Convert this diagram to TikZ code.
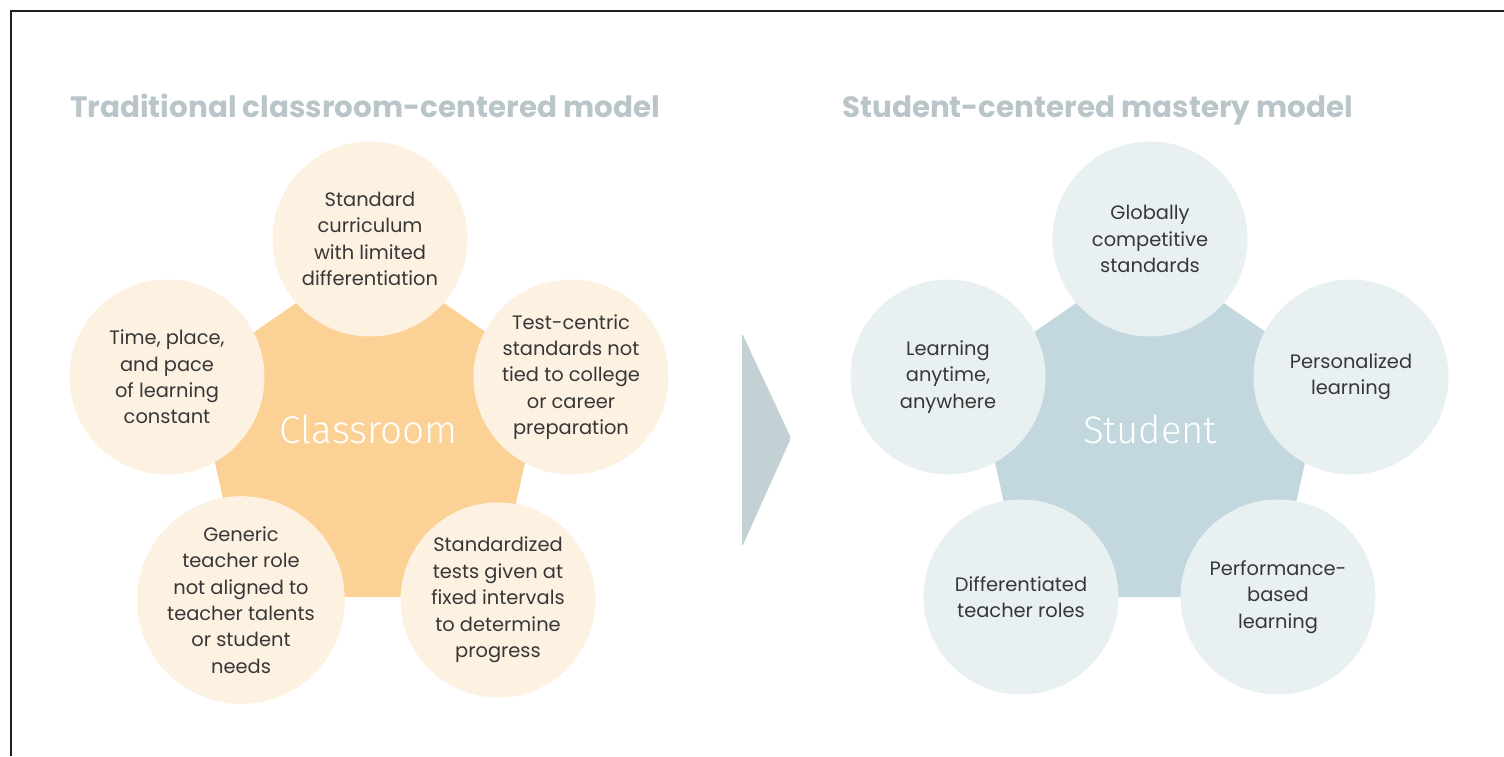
\documentclass[tikz,border=0pt]{standalone}
\usepackage{fontspec}
\usepackage{graphicx}
\setmainfont{Poppins}
\newfontfamily\lightfont{Fira Sans Light}
\definecolor{orangeD}{RGB}{251,209,150}
\definecolor{orangeL}{RGB}{253,241,226}
\definecolor{blueD}{RGB}{194,215,222}
\definecolor{blueL}{RGB}{233,240,242}
\definecolor{titleC}{RGB}{186,197,201}
\definecolor{bodyC}{RGB}{55,55,55}
\definecolor{arrowC}{RGB}{196,209,212}
\definecolor{frameC}{RGB}{30,30,30}
\tikzset{
  bubble/.style={circle, minimum size=195bp, inner sep=0pt, align=center,
    text=bodyC, font=\fontsize{19.5}{26.5}\selectfont},
  obubble/.style={bubble, fill=orangeL},
  bbubble/.style={bubble, fill=blueL},
  heading/.style={anchor=base west, inner sep=0pt, text=titleC},
  hub/.style={anchor=base, inner sep=0pt, text=white},
}
\begin{document}
\begin{tikzpicture}[x=1bp,y=-1bp]
\useasboundingbox (0,0) rectangle (1504,756);
% frame
\draw[line width=2bp, frameC] (11,756) -- (11,11) -- (1504,11);
% titles
\node[heading] (t1) at (70,117) {\resizebox{590bp}{!}{\bfseries Traditional classroom-centered model}};
\node[heading] (t2) at (842,117) {\resizebox{511bp}{!}{\bfseries Student-centered mastery model}};
% left pentagon
\fill[orangeD] (370,252) -- (195,373) -- (245,597) -- (495,597) -- (545,373) -- cycle;
\node[obubble] (l1) at (370,239) {Standard\\curriculum\\with limited\\differentiation};
\node[obubble] (l2) at (167,377) {Time, place,\\and pace\\of learning\\constant};
\node[obubble] (l3) at (571,377) {Test-centric\\standards not\\tied to college\\or career\\preparation};
\node[obubble] (l4) at (241,600) {Generic\\teacher role\\not aligned to\\teacher talents\\or student\\needs};
\node[obubble] (l5) at (498,600) {Standardized\\tests given at\\fixed intervals\\to determine\\progress};
\node[hub] (lc) at (369,443) {\resizebox{178bp}{!}{\lightfont Classroom}};
% arrow
\fill[arrowC, rounded corners=3bp] (742,333) -- (791,438) -- (742,547) -- cycle;
% right pentagon
\fill[blueD] (1150,252) -- (975,373) -- (1025,597) -- (1275,597) -- (1325,373) -- cycle;
\node[bbubble] (r1) at (1150,239) {Globally\\competitive\\standards};
\node[bbubble] (r2) at (948,377) {Learning\\anytime,\\anywhere};
\node[bbubble] (r3) at (1351,377) {Personalized\\learning};
\node[bbubble] (r4) at (1021,597) {Differentiated\\teacher roles};
\node[bbubble] (r5) at (1278,597) {Performance-\\based\\learning};
\node[hub] (rc) at (1150,443) {\resizebox{134bp}{!}{\lightfont Student}};
\end{tikzpicture}
\end{document}
